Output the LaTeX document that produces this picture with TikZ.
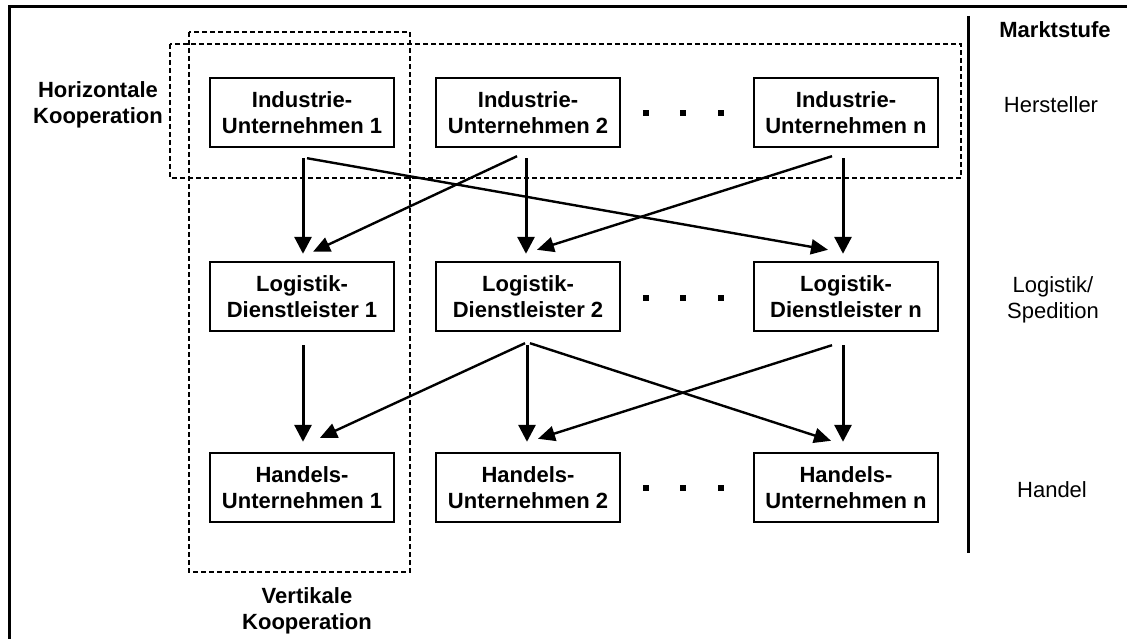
\documentclass[tikz,border=0pt]{standalone}
\usepackage{fontspec}
\setmainfont{Liberation Sans}
\usetikzlibrary{calc,arrows.meta}

\tikzset{
  unit/.style={draw, line width=2.4pt, minimum width=184pt, minimum height=69pt,
    inner sep=0pt, align=center, font=\fontsize{22}{26.5}\selectfont\bfseries},
  lbl/.style={align=center, inner sep=0pt, font=\fontsize{22}{26.5}\selectfont},
  blbl/.style={lbl, font=\fontsize{22}{26.5}\selectfont\bfseries},
  coop/.style={line width=1.6pt, dash pattern=on 5pt off 3pt},
  vflow/.style={line width=3pt, -{Triangle[length=17pt,width=17pt]}},
  dflow/.style={line width=2.4pt, -{Triangle[length=17pt,width=15pt]}},
  dot/.style={fill, minimum size=6.5pt, inner sep=0pt},
  frame/.style={line width=3pt},
}

\begin{document}
\begin{tikzpicture}[x=1pt, y=-1pt]
\useasboundingbox (0,0) rectangle (1127,639);

% outer frame (top and left edges)
\draw[frame] (9,639) -- (9,7) -- (1127,7);

% market level separator
\draw[frame] (968,16) -- (968,553);

% cooperation regions
\draw[coop] (189,32) rectangle (410,572);
\draw[coop] (170,44) rectangle (961,178);

% companies
\node[unit] (i1) at (302,112.5) {Industrie-\\Unternehmen 1};
\node[unit] (i2) at (528,112.5) {Industrie-\\Unternehmen 2};
\node[unit] (i3) at (846,112.5) {Industrie-\\Unternehmen n};
\node[unit] (l1) at (302,296.5) {Logistik-\\Dienstleister 1};
\node[unit] (l2) at (528,296.5) {Logistik-\\Dienstleister 2};
\node[unit] (l3) at (846,296.5) {Logistik-\\Dienstleister n};
\node[unit] (h1) at (302,487.5) {Handels-\\Unternehmen 1};
\node[unit] (h2) at (528,487.5) {Handels-\\Unternehmen 2};
\node[unit] (h3) at (846,487.5) {Handels-\\Unternehmen n};

% ellipsis dots
\foreach \r/\y in {a/113,b/298,c/488}{
  \node[dot] (d\r1) at (646,\y) {};
  \node[dot] (d\r2) at (683,\y) {};
  \node[dot] (d\r3) at (721,\y) {};
}

% labels
\node[blbl] (hk) at (98,105) {Horizontale\\Kooperation};
\node[blbl] (vk) at (307,611) {Vertikale\\Kooperation};
\node[blbl] (ms) at (1055,30) {Marktstufe};
\node[lbl] (mh) at (1051,105) {Hersteller};
\node[lbl] (ml) at (1053,300) {Logistik/\\Spedition};
\node[lbl] (md) at (1052,490) {Handel};

% producers -> logistics
\draw[vflow] ($(i1.south)+(1,10)$) -- ($(l1.north)+(1,-7)$);
\draw[vflow] ($(i2.south)+(-2,10)$) -- ($(l2.north)+(-2,-7)$);
\draw[vflow] ($(i3.south)+(-3,10)$) -- ($(l3.north)+(-3,-7)$);
\draw[dflow] ($(i1.south)+(5,10)$) -- ($(l3.north)+(-18,-11)$);
\draw[dflow] ($(i2.south)+(-11,8)$) -- ($(l1.north)+(11,-9)$);
\draw[dflow] ($(i3.south)+(-14,8)$) -- ($(l2.north)+(9,-11)$);

% logistics -> trade
\draw[vflow] ($(l1.south)+(1,13)$) -- ($(h1.north)+(1,-10)$);
\draw[vflow] ($(l2.south)+(-1,13)$) -- ($(h2.north)+(-1,-10)$);
\draw[vflow] ($(l3.south)+(-3,13)$) -- ($(h3.north)+(-3,-10)$);
\draw[dflow] ($(l2.south)+(-3,11)$) -- ($(h1.north)+(18,-14)$);
\draw[dflow] ($(l2.south)+(2,11)$) -- ($(h3.north)+(-15,-11)$);
\draw[dflow] ($(l3.south)+(-14,13)$) -- ($(h2.north)+(10,-13)$);
\end{tikzpicture}
\end{document}
